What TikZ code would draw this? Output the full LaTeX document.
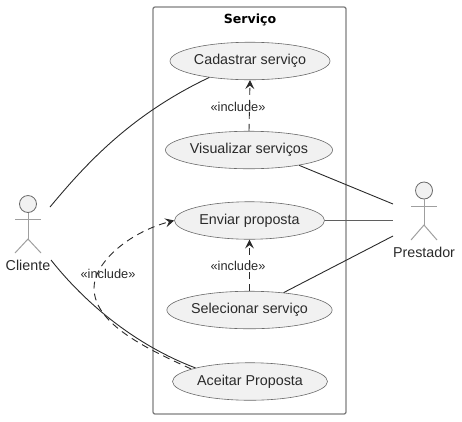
\documentclass[tikz,border=0pt]{standalone}
\usepackage{fontspec}
\setmainfont{Liberation Sans}
\newfontfamily\titlefont{DejaVu Sans}
\usetikzlibrary{arrows.meta, shapes.geometric}
\definecolor{usefill}{HTML}{F1F1F1}
\definecolor{useline}{HTML}{2A2A2A}
\begin{document}
\begin{tikzpicture}[x = 1pt, y = -1pt, font = \fontsize{14.3}{16}\selectfont, text = useline,
        usecase/.style = {draw = useline!70, line width = 0.6pt, fill = usefill, ellipse, inner sep = 0pt, minimum height = 37.5pt},
        actorline/.style = {draw = useline!45, line width = 1pt},
        link/.style = {draw = useline, line width = 0.9pt},
        incl/.style = {draw = useline, line width = 0.9pt, dash pattern = on 7pt off 5pt, -{Stealth[length = 9pt, width = 9pt, inset = 3.5pt]}},
        stereo/.style = {font = \fontsize{12.8}{14}\selectfont, inner sep = 1pt}]
    \useasboundingbox (0, 0) rectangle (462, 421);
    \node [draw = useline!60, line width = 1.3pt, rounded corners = 2pt, minimum width = 193pt, minimum height = 407pt, inner sep = 0pt] (sistema) at (249.5, 210.5) {};
    \node [font = \titlefont\fontsize{12.6}{14}\selectfont\bfseries, text = black] (titulo) at (250, 19.5) {Serviço};
    \node [usecase, minimum width = 160pt] (cadastrar) at (250, 61) {Cadastrar serviço};
    \node [usecase, minimum width = 161pt] (visualizar) at (249, 150) {Visualizar serviços};
    \node [usecase, minimum width = 150pt] (enviar) at (249.5, 220.5) {Enviar proposta};
    \node [usecase, minimum width = 162pt] (selecionar) at (249.5, 310) {Selecionar serviço};
    \node [usecase, minimum width = 155pt] (aceitar) at (250, 381.5) {Aceitar Proposta};
    % cliente
    \node [circle, draw = useline!70, fill = usefill, line width = 0.8pt, minimum size = 17pt, inner sep = 0pt] (cabecaC) at (28, 204) {};
    \coordinate (baseC) at (28, 239);
    \draw [actorline] (cabecaC) -- (baseC);
    \draw [actorline] (15, 219) -- (41, 219);
    \draw [actorline] (15, 253) -- (baseC) -- (41, 253);
    \node (cliente) at (28, 265.5) {Cliente};
    % prestador
    \node [circle, draw = useline!70, fill = usefill, line width = 0.8pt, minimum size = 17pt, inner sep = 0pt] (cabecaP) at (424, 190.5) {};
    \coordinate (baseP) at (424, 225);
    \draw [actorline] (cabecaP) -- (baseP);
    \draw [actorline] (411, 206) -- (437, 206);
    \draw [actorline] (411, 240) -- (baseP) -- (437, 240);
    \node (prestador) at (424, 252) {Prestador};
    % ligacoes
    \coordinate (c1) at (50, 207);
    \coordinate (c2) at (51, 260);
    \coordinate (p1) at (393, 204);
    \coordinate (p2) at (393, 220.5);
    \coordinate (p3) at (393, 236);
    \coordinate (d1) at (94, 288);
    \draw [link] (c1) .. controls (85, 165) and (130, 115) .. (cadastrar.202);
    \draw [link] (c2) .. controls (85, 303) and (135, 345) .. (aceitar.166);
    \draw [link] (visualizar.-17) -- (p1);
    \draw [link, useline!75] (enviar.east) -- (p2);
    \draw [link] (selecionar.27) -- (p3);
    \draw [incl] (visualizar.north) -- (cadastrar.south);
    \draw [incl] (selecionar.north) -- (enviar.south);
    \draw [incl] (aceitar.168) .. controls (150, 350) and (94, 325) .. (d1) .. controls (94, 262) and (130, 232) .. (enviar.west);
    \node [stereo] (incl1) at (238, 107) {«include»};
    \node [stereo] (incl2) at (238, 266) {«include»};
    \node [stereo] (incl3) at (108, 274) {«include»};
\end{tikzpicture}
\end{document}
